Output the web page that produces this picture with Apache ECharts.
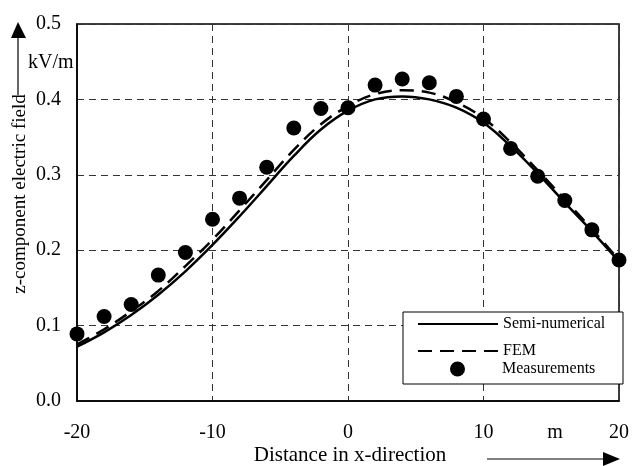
<!DOCTYPE html>
<html>
<head>
<meta charset="utf-8">
<script src="https://cdn.jsdelivr.net/npm/echarts@6/dist/echarts.min.js"></script>
<style>
  html, body { margin: 0; padding: 0; background: #fff; }
  #main { width: 632px; height: 466px; }
</style>
</head>
<body>
<div id="main"></div>
<script>
// distance in x-direction, m
const xs = [-20, -18, -16, -14, -12, -10, -8, -6, -4, -2, 0, 2, 4, 6, 8, 10, 12, 14, 16, 18, 20]
// z-component electric field, kV/m
const semiNumerical = [0.072, 0.091, 0.114, 0.141, 0.172, 0.207, 0.245, 0.285, 0.325, 0.360, 0.385,
  0.400, 0.404, 0.400, 0.389, 0.369, 0.338, 0.302, 0.263, 0.225, 0.185]
const fem = [0.075, 0.095, 0.119, 0.146, 0.179, 0.214, 0.253, 0.293, 0.333, 0.367, 0.391,
  0.407, 0.412, 0.409, 0.396, 0.375, 0.343, 0.306, 0.267, 0.228, 0.187]
const measurements = [0.089, 0.112, 0.128, 0.167, 0.197, 0.241, 0.269, 0.310, 0.362, 0.388, 0.389,
  0.419, 0.427, 0.422, 0.404, 0.374, 0.335, 0.298, 0.266, 0.227, 0.187]

const serif = '"Liberation Serif", "Times New Roman", serif'

function pairs(ys) {
  return xs.map((x, i) => [x, ys[i]])
}

let chart = echarts.init(document.getElementById('main'))

// one legend per row, the rows are not evenly spaced in the original
function lineRow(name, top) {
  return {
    data: [name],
    left: 412,
    top: top,
    itemWidth: 80,
    itemHeight: 14,
    selectedMode: false,
    itemStyle: { opacity: 0 },
    textStyle: { color: '#000', fontFamily: serif, fontSize: 16 }
  }
}

let option = {
  animation: false,
  backgroundColor: '#fff',
  grid: {
    left: 77,
    right: 11,
    top: 24,
    bottom: 65,
    show: true,
    borderColor: '#000',
    borderWidth: 1.5
  },
  xAxis: {
    type: 'value',
    min: -20,
    max: 20,
    interval: 10,
    axisLine: { show: true, onZero: false, lineStyle: { color: '#000', width: 1.5 } },
    axisTick: { show: false },
    axisLabel: { color: '#000', fontFamily: serif, fontSize: 20, margin: 22 },
    splitLine: { show: true, lineStyle: { color: '#333', type: [7, 5], width: 1 } }
  },
  yAxis: {
    type: 'value',
    min: 0,
    max: 0.5,
    interval: 0.1,
    axisLine: { show: true, onZero: false, lineStyle: { color: '#000', width: 1.5 } },
    axisTick: { show: false },
    axisLabel: {
      color: '#000', fontFamily: serif, fontSize: 20, margin: 16,
      formatter: v => v.toFixed(1)
    },
    splitLine: { show: true, lineStyle: { color: '#333', type: [7, 5], width: 1 } }
  },
  legend: [
    lineRow('Semi-numerical', 311),
    lineRow('FEM', 338),
    {
      data: [{ name: 'Measurements', icon: 'circle' }],
      left: 445,
      top: 356,
      itemWidth: 15,
      itemHeight: 15,
      selectedMode: false,
      itemStyle: { color: '#000', opacity: 1 },
      textStyle: { color: '#000', fontFamily: serif, fontSize: 16, padding: [0, 0, 0, 32] }
    }
  ],
  series: [
    {
      name: 'Semi-numerical',
      type: 'line',
      data: pairs(semiNumerical),
      smooth: 0.4,
      symbol: 'none',
      lineStyle: { color: '#000', width: 2.5 },
      itemStyle: { color: '#000' }
    },
    {
      name: 'FEM',
      type: 'line',
      data: pairs(fem),
      smooth: 0.4,
      symbol: 'none',
      lineStyle: { color: '#000', width: 2.5, type: [14, 8] },
      itemStyle: { color: '#000' }
    },
    {
      name: 'Measurements',
      type: 'scatter',
      data: pairs(measurements),
      symbol: 'circle',
      symbolSize: 15,
      itemStyle: { color: '#000', opacity: 1 },
      z: 3
    }
  ],
  graphic: [
    // legend frame
    {
      type: 'rect', z: 3,
      shape: { x: 403, y: 312, width: 220, height: 72 },
      style: { fill: '#fff', stroke: '#000', lineWidth: 1 }
    },
    // y arrow
    { type: 'line', shape: { x1: 18, y1: 37, x2: 18, y2: 95 }, style: { stroke: '#000', lineWidth: 1.2 } },
    { type: 'polygon', shape: { points: [[18, 22], [11, 38], [26, 38]] }, style: { fill: '#000' } },
    // x arrow
    { type: 'line', shape: { x1: 487, y1: 459, x2: 604, y2: 459 }, style: { stroke: '#000', lineWidth: 1.2 } },
    { type: 'polygon', shape: { points: [[620, 459], [603, 452], [603, 466]] }, style: { fill: '#000' } },
    {
      type: 'text', x: 20, y: 194, rotation: Math.PI / 2,
      style: {
        text: 'z-component electric field', fill: '#000', font: '19px ' + serif,
        align: 'center', verticalAlign: 'middle'
      }
    },
    {
      type: 'text', x: 28, y: 63,
      style: { text: 'kV/m', fill: '#000', font: '20px ' + serif, align: 'left', verticalAlign: 'middle' }
    },
    {
      type: 'text', x: 555, y: 433,
      style: { text: 'm', fill: '#000', font: '20px ' + serif, align: 'center', verticalAlign: 'middle' }
    },
    {
      type: 'text', x: 350, y: 455,
      style: { text: 'Distance in x-direction', fill: '#000', font: '21px ' + serif, align: 'center', verticalAlign: 'middle' }
    }
  ]
}

chart.setOption(option)
</script>
</body>
</html>
